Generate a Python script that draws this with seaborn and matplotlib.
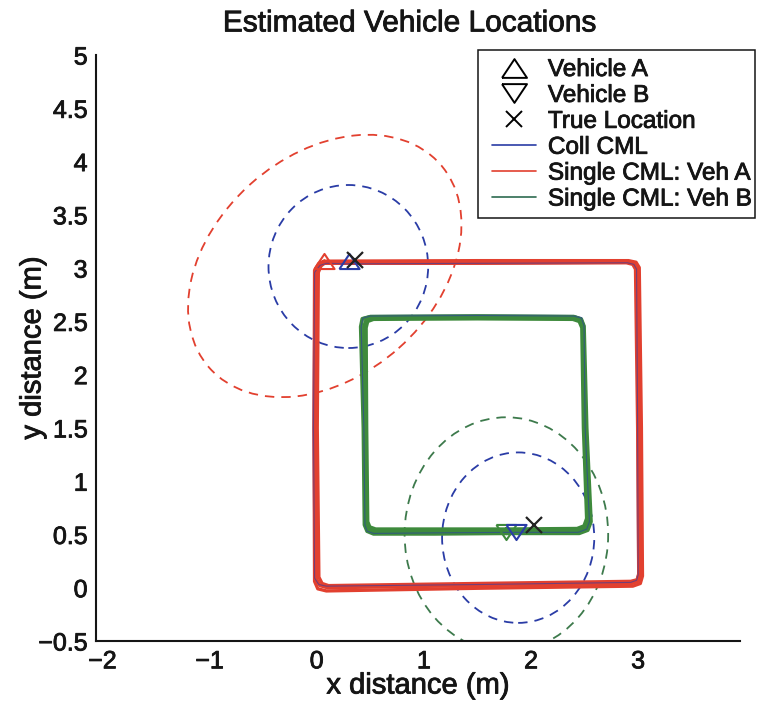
import numpy as np
import pandas as pd
import matplotlib
matplotlib.use("Agg")
import matplotlib.pyplot as plt
import matplotlib.patheffects as pe
from matplotlib.patches import Ellipse, Rectangle
from matplotlib.lines import Line2D
import seaborn as sns

# ---- trajectories (x, y in metres), several laps per estimator ----
# Collaborative CML, vehicle A (outer square)
coll_a_x = [0.30, 1.50, 2.90, 2.96, 2.985, 2.995, 3.00, 2.985, 2.93, 1.50, 0.09, 0.02, -0.02, -0.03, -0.02, 0.03, 0.09, 0.30]
coll_a_y = [3.04, 3.045, 3.05, 3.035, 2.99, 1.50, 0.12, 0.07, 0.05, 0.03, 0.015, 0.03, 0.09, 1.50, 2.96, 3.025, 3.045, 3.04]
# Collaborative CML, vehicle B (inner square)
coll_b_x = [1.86, 2.44, 2.52, 2.545, 2.505, 2.495, 2.47, 2.40, 1.50, 0.50, 0.43, 0.415, 0.44, 0.45, 0.47, 0.53, 1.10, 1.86]
coll_b_y = [0.52, 0.52, 0.55, 0.62, 1.50, 2.46, 2.53, 2.55, 2.555, 2.55, 2.53, 2.45, 1.50, 0.59, 0.53, 0.51, 0.515, 0.52]

# Single-vehicle CML, vehicle A: three laps
single_a_lap1_x = [0.07, 1.50, 2.90, 2.96, 2.99, 3.01, 3.02, 3.00, 2.94, 1.50, 0.10, 0.03, 0.00, -0.01, 0.00, 0.03, 0.07]
single_a_lap1_y = [3.05, 3.055, 3.06, 3.045, 3.00, 1.50, 0.12, 0.06, 0.04, 0.02, 0.00, 0.02, 0.08, 1.50, 2.97, 3.03, 3.05]
single_a_lap2_x = [0.07, 1.50, 2.91, 2.98, 3.01, 3.03, 3.04, 3.02, 2.95, 1.50, 0.09, 0.01, -0.02, -0.025, -0.02, 0.02, 0.07]
single_a_lap2_y = [3.065, 3.07, 3.07, 3.055, 3.005, 1.50, 0.11, 0.04, 0.015, -0.005, -0.03, -0.01, 0.06, 1.50, 2.98, 3.045, 3.065]
single_a_lap3_x = [0.07, 1.50, 2.89, 2.95, 2.975, 2.995, 3.005, 2.99, 2.93, 1.50, 0.11, 0.05, 0.02, 0.005, 0.015, 0.04, 0.07]
single_a_lap3_y = [3.045, 3.045, 3.05, 3.035, 2.99, 1.50, 0.13, 0.075, 0.06, 0.04, 0.02, 0.04, 0.10, 1.50, 2.96, 3.02, 3.045]

# Single-vehicle CML, vehicle B: three laps
single_b_lap1_x = [1.77, 2.44, 2.51, 2.535, 2.50, 2.485, 2.46, 2.40, 1.50, 0.52, 0.46, 0.44, 0.45, 0.46, 0.48, 0.54, 1.10, 1.77]
single_b_lap1_y = [0.53, 0.535, 0.56, 0.63, 1.50, 2.45, 2.51, 2.53, 2.535, 2.53, 2.51, 2.45, 1.50, 0.60, 0.55, 0.53, 0.53, 0.53]
single_b_lap2_x = [1.77, 2.45, 2.53, 2.56, 2.52, 2.495, 2.47, 2.40, 1.50, 0.50, 0.425, 0.41, 0.435, 0.445, 0.47, 0.53, 1.10, 1.77]
single_b_lap2_y = [0.51, 0.51, 0.54, 0.62, 1.50, 2.455, 2.52, 2.545, 2.55, 2.545, 2.525, 2.45, 1.50, 0.59, 0.53, 0.505, 0.505, 0.51]
single_b_lap3_x = [1.77, 2.43, 2.495, 2.52, 2.49, 2.475, 2.45, 2.39, 1.50, 0.53, 0.475, 0.46, 0.465, 0.475, 0.495, 0.55, 1.10, 1.77]
single_b_lap3_y = [0.55, 0.555, 0.58, 0.65, 1.50, 2.44, 2.50, 2.52, 2.525, 2.52, 2.50, 2.44, 1.50, 0.62, 0.57, 0.55, 0.55, 0.55]

# ---- final position estimates ----
veh_a_single = (0.065, 3.07)
veh_a_coll = (0.30, 3.07)
veh_b_single = (1.77, 0.52)
veh_b_coll = (1.86, 0.52)
true_x = [0.36, 2.03]
true_y = [3.08, 0.59]

# ---- uncertainty ellipses: centre x, centre y, width, height, angle (deg) ----
ell_a_single = (0.075, 3.02, 2.88, 2.07, 41.8)
ell_a_coll = (0.295, 3.015, 1.49, 1.53, 0.0)
ell_b_single = (1.77, 0.50, 1.90, 2.20, 0.0)
ell_b_coll = (1.88, 0.47, 1.42, 1.60, 0.0)

xticks = [-2, -1, 0, 1, 2, 3]
xtick_labels = ["\u22122", "\u22121", "0", "1", "2", "3"]
yticks = [-0.5, 0, 0.5, 1, 1.5, 2, 2.5, 3, 3.5, 4, 4.5, 5]
ytick_labels = ["\u22120.5", "0", "0.5", "1", "1.5", "2", "2.5", "3", "3.5", "4", "4.5", "5"]

BLUE = "#2a3ca6"
RED = "#e2402f"
GREEN = "#3e8a3c"
GREEN_DASH = "#3d7a4c"
INK = "#151515"

sns.set_style("white")
plt.rcParams["font.family"] = ["Liberation Sans", "DejaVu Sans"]

# slightly heavier strokes on the text, like a printed figure
heavy = [pe.withStroke(linewidth=0.6, foreground=INK)]

# wide triangles (pointing up / down), centred on the data point
TRI_UP = [(-1.0, -0.75), (1.0, -0.75), (0.0, 0.75), (-1.0, -0.75)]
TRI_DOWN = [(-1.0, 0.75), (1.0, 0.75), (0.0, -0.75), (-1.0, 0.75)]


def laps_frame(xs_list, ys_list):
    rows = []
    for k, (xs, ys) in enumerate(zip(xs_list, ys_list)):
        for i, (x, y) in enumerate(zip(xs, ys)):
            rows.append({"x": x, "y": y, "lap": k, "step": i})
    return pd.DataFrame(rows)


fig = plt.figure(figsize=(7.57, 7.09), dpi=100)
ax = fig.add_axes([0.1268, 0.0959, 0.8507, 0.8265])

coll_df = laps_frame([coll_a_x, coll_b_x], [coll_a_y, coll_b_y])
single_a_df = laps_frame([single_a_lap1_x, single_a_lap2_x, single_a_lap3_x],
                         [single_a_lap1_y, single_a_lap2_y, single_a_lap3_y])
single_b_df = laps_frame([single_b_lap1_x, single_b_lap2_x, single_b_lap3_x],
                         [single_b_lap1_y, single_b_lap2_y, single_b_lap3_y])

sns.lineplot(data=coll_df, x="x", y="y", units="lap", estimator=None, sort=False,
             color=BLUE, lw=1.6, ax=ax, solid_joinstyle="round")
sns.lineplot(data=single_a_df, x="x", y="y", units="lap", estimator=None, sort=False,
             color=RED, lw=2.4, ax=ax, solid_joinstyle="round")
sns.lineplot(data=single_b_df, x="x", y="y", units="lap", estimator=None, sort=False,
             color=GREEN, lw=2.6, ax=ax, solid_joinstyle="round")
# thin collaborative trace kept visible along the edges
sns.lineplot(data=coll_df, x="x", y="y", units="lap", estimator=None, sort=False,
             color=BLUE, lw=0.8, alpha=0.6, ax=ax)

dash = (0, (5.2, 3.9))
for (cx, cy, w, h, ang), col in [(ell_a_single, RED), (ell_a_coll, BLUE),
                                  (ell_b_single, GREEN_DASH), (ell_b_coll, BLUE)]:
    ax.add_patch(Ellipse((cx, cy), w, h, angle=ang, fill=False, edgecolor=col,
                         lw=1.3, linestyle=dash))

ms = 14.5
ax.plot(*veh_a_single, marker=TRI_UP, ms=ms, mfc="none", mec=RED, mew=1.5, ls="none")
ax.plot(*veh_a_coll, marker=TRI_UP, ms=ms, mfc="none", mec=BLUE, mew=1.5, ls="none")
ax.plot(*veh_b_single, marker=TRI_DOWN, ms=ms, mfc="none", mec=GREEN, mew=1.5, ls="none")
ax.plot(*veh_b_coll, marker=TRI_DOWN, ms=ms, mfc="none", mec=BLUE, mew=1.5, ls="none")
ax.plot(true_x, true_y, marker="x", ms=11, mec="#222222", mew=1.6, ls="none")

ax.set_xlim(-2.06, 3.95)
ax.set_ylim(-0.5, 5.0)
ax.set_xticks(xticks)
ax.set_xticklabels(xtick_labels)
ax.set_yticks(yticks)
ax.set_yticklabels(ytick_labels)
ax.tick_params(direction="in", length=6, width=1.2, labelsize=18, colors=INK, pad=6)
for side in ("top", "right"):
    ax.spines[side].set_visible(False)
for side in ("left", "bottom"):
    ax.spines[side].set_color(INK)
    ax.spines[side].set_linewidth(1.5)

ax.set_title("Estimated Vehicle Locations", fontsize=21.5, pad=17, color=INK,
             x=0.4876)
ax.set_xlabel("x distance (m)", fontsize=21, color=INK)
ax.set_ylabel("y distance (m)", fontsize=21, color=INK)
ax.xaxis.set_label_coords(0.5, -0.052)
ax.yaxis.set_label_coords(-0.077, 0.5)

handles = [
    Line2D([], [], marker=TRI_UP, ms=18, mfc="none", mec="black", mew=1.4, ls="none"),
    Line2D([], [], marker=TRI_DOWN, ms=18, mfc="none", mec="black", mew=1.4, ls="none"),
    Line2D([], [], marker="x", ms=11, mec="black", mew=1.4, ls="none"),
    Line2D([], [], color=BLUE, lw=1.2),
    Line2D([], [], color=RED, lw=1.2),
    Line2D([], [], color="#2e6b50", lw=1.2),
]
labels = ["Vehicle A", "Vehicle B", "True Location", "Coll CML",
          "Single CML: Veh A", "Single CML: Veh B"]
leg = ax.legend(handles, labels, loc="upper left", fontsize=17.5,
                bbox_to_anchor=(492 / 757, 1 - 59 / 709), bbox_transform=fig.transFigure,
                borderaxespad=0, borderpad=0, frameon=False,
                handlelength=1.8, handletextpad=0.5, labelspacing=0.16)
for t in leg.get_texts():
    t.set_color(INK)
    t.set_path_effects(heavy)

# legend box
fig.patches.append(Rectangle((478 / 757, 1 - 218 / 709), 277 / 757, 168 / 709,
                             transform=fig.transFigure, fill=False,
                             edgecolor=INK, lw=1.1))

for t in ax.get_xticklabels() + ax.get_yticklabels() + [ax.title, ax.xaxis.label, ax.yaxis.label]:
    t.set_path_effects(heavy)

fig.savefig("out.png", dpi=100)
